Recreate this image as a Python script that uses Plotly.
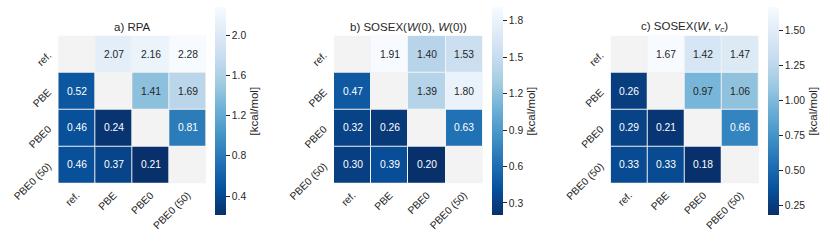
import plotly.graph_objects as go

labels = ["ref.", "PBE", "PBE0", "PBE0 (50)"]
nan = None

rpa = [[nan, 2.07, 2.16, 2.28],
       [0.52, nan, 1.41, 1.69],
       [0.46, 0.24, nan, 0.81],
       [0.46, 0.37, 0.21, nan]]

sosex_w0 = [[nan, 1.91, 1.40, 1.53],
            [0.47, nan, 1.39, 1.80],
            [0.32, 0.26, nan, 0.63],
            [0.30, 0.39, 0.20, nan]]

sosex_wvc = [[nan, 1.67, 1.42, 1.47],
             [0.26, nan, 0.97, 1.06],
             [0.29, 0.21, nan, 0.66],
             [0.33, 0.33, 0.18, nan]]

titles = ["a) RPA",
          "b) SOSEX(<i>W</i>(0), <i>W</i>(0))",
          "c) SOSEX(<i>W</i>, <i>v<sub>c</sub></i>)"]
cb_ticks = [[0.4, 0.8, 1.2, 1.6, 2.0],
            [0.3, 0.6, 0.9, 1.2, 1.5, 1.8],
            [0.25, 0.50, 0.75, 1.00, 1.25, 1.50]]
cb_fmt = [".1f", ".1f", ".2f"]
cb_title = "[kcal/mol]"

W, H = 830, 243
blues = ["#f7fbff", "#deebf7", "#c6dbef", "#9ecae1", "#6baed6",
         "#4292c6", "#2171b5", "#08519c", "#08306b"]
blues_r = blues[::-1]
colorscale = [[i / 8, c] for i, c in enumerate(blues_r)]


def hex2rgb(h):
    h = h.lstrip("#")
    return [int(h[i:i + 2], 16) / 255 for i in (0, 2, 4)]


def cmap(t):
    t = min(max(t, 0), 1) * 8
    i = min(int(t), 7)
    f = t - i
    a, b = hex2rgb(blues_r[i]), hex2rgb(blues_r[i + 1])
    return [a[k] + (b[k] - a[k]) * f for k in range(3)]


def lum(rgb):
    lin = [c / 12.92 if c <= 0.03928 else ((c + 0.055) / 1.055) ** 2.4 for c in rgb]
    return 0.2126 * lin[0] + 0.7152 * lin[1] + 0.0722 * lin[2]


# pixel geometry (layout only)
hm_x = [(58.3, 206.0), (334.0, 482.7), (610.7, 759.0)]
hm_y = (35.7, 183.3)
cb_x = [215.0, 492.3, 768.3]
cb_y = (7.3, 215.0)
cb_th = 10.7

FONT = "Liberation Sans, Arial, sans-serif"
TXT = "#262626"

fig = go.Figure()
annotations = []
datasets = [rpa, sosex_w0, sosex_wvc]
for k, data in enumerate(datasets):
    vals = [v for row in data for v in row if v is not None]
    zmin, zmax = min(vals), max(vals)
    xa = "x" if k == 0 else f"x{k+1}"
    ya = "y" if k == 0 else f"y{k+1}"
    fig.add_trace(go.Heatmap(
        z=data, x=labels, y=labels, xaxis=xa, yaxis=ya,
        zmin=zmin, zmax=zmax, colorscale=colorscale,
        xgap=1, ygap=1, hoverongaps=False,
        colorbar=dict(
            x=cb_x[k] / W, xanchor="left", xpad=0, ypad=0,
            y=1 - (cb_y[0] + cb_y[1]) / 2 / H, yanchor="middle",
            len=cb_y[1] - cb_y[0], lenmode="pixels",
            thickness=cb_th, thicknessmode="pixels",
            outlinewidth=0,
            tickvals=cb_ticks[k], tickformat=cb_fmt[k],
            tickprefix="\u2009", ticksuffix="\u2009\u2009\u2009",
            ticks="outside", ticklen=4.3, tickwidth=1, tickcolor=TXT,
            tickfont=dict(family=FONT, size=10.3, color=TXT),
            title=dict(text=cb_title, side="right",
                       font=dict(family=FONT, size=11.5, color=TXT)),
        ),
    ))
    for i, row in enumerate(data):
        for j, v in enumerate(row):
            if v is None:
                continue
            rgb = cmap((v - zmin) / (zmax - zmin))
            col = TXT if lum(rgb) > 0.408 else "white"
            annotations.append(dict(
                x=labels[j], y=labels[i], xref=xa, yref=ya,
                text=f"{v:.2f}", showarrow=False,
                font=dict(family=FONT, size=10.3, color=col)))
    x0, x1 = hm_x[k]
    annotations.append(dict(
        x=(x0 + x1) / 2 / W, y=1 - 27 / H, xref="paper", yref="paper",
        text=titles[k], showarrow=False, xanchor="center", yanchor="middle",
        font=dict(family=FONT, size=11.5, color=TXT)))

layout = dict(
    width=W, height=H, margin=dict(l=0, r=0, t=0, b=0, autoexpand=False),
    paper_bgcolor="white", plot_bgcolor="#f3f3f3",
    annotations=annotations, showlegend=False,
    font=dict(family=FONT, color=TXT),
)
for k in range(3):
    sx = "xaxis" if k == 0 else f"xaxis{k+1}"
    sy = "yaxis" if k == 0 else f"yaxis{k+1}"
    ya = "y" if k == 0 else f"y{k+1}"
    xa = "x" if k == 0 else f"x{k+1}"
    x0, x1 = hm_x[k]
    layout[sx] = dict(domain=[x0 / W, x1 / W], anchor=ya, automargin=False,
                      showgrid=False, zeroline=False, showline=False, ticks="",
                      ticklabelstandoff=3,
                      tickangle=-45, tickfont=dict(family=FONT, size=10.3, color=TXT),
                      fixedrange=True)
    layout[sy] = dict(domain=[1 - hm_y[1] / H, 1 - hm_y[0] / H], anchor=xa,
                      automargin=False, autorange="reversed",
                      showgrid=False, zeroline=False, showline=False, ticks="",
                      ticklabelstandoff=9,
                      tickangle=-45, tickfont=dict(family=FONT, size=10.3, color=TXT),
                      fixedrange=True)
fig.update_layout(**layout)
fig.write_html("out.html", config={"displayModeBar": False},
               post_script="document.body.style.margin='0';document.body.style.overflow='hidden';")
